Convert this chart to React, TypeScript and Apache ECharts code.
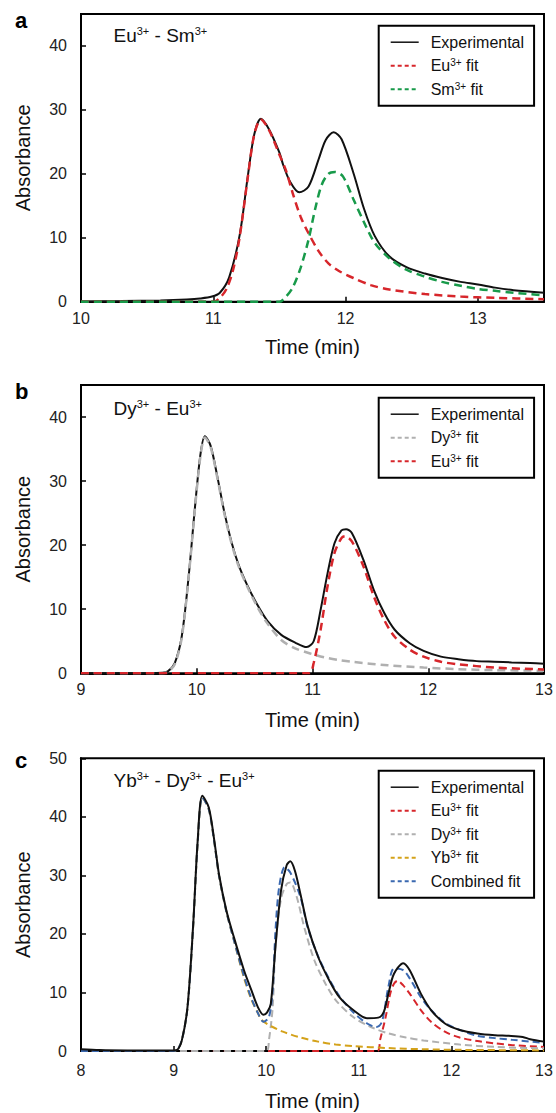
import React, { useEffect, useRef } from "react";
import * as echarts from "echarts";

const FONT = 'Arial, "Liberation Sans", Helvetica, sans-serif';

// Panel a: Eu3+ - Sm3+
const aExperimental: [number, number][] = [
  [10.0, 0.05], [10.3, 0.1], [10.6, 0.2], [10.8, 0.35], [10.9, 0.5], [10.99, 0.8], [11.05, 1.4],
  [11.12, 3.8], [11.2, 10.5], [11.26, 19.5], [11.31, 26.2], [11.36, 28.6], [11.42, 27.0], [11.5, 23.3],
  [11.53, 21.3], [11.58, 18.8], [11.65, 17.1], [11.72, 18.0], [11.8, 22.5], [11.85, 25.3], [11.91, 26.5],
  [11.97, 25.4], [12.06, 20.1], [12.14, 14.5], [12.22, 10.3], [12.33, 7.1], [12.46, 5.4], [12.6, 4.4],
  [12.73, 3.7], [12.87, 3.1], [13.0, 2.7], [13.13, 2.2], [13.27, 1.8], [13.5, 1.4],
];
const aEuFit: [number, number][] = [
  [10.0, 0], [11.0, 0], [11.05, 0.6], [11.1, 2.0], [11.15, 5.0], [11.2, 10.2], [11.26, 19.3], [11.31, 26.2],
  [11.36, 28.5], [11.42, 26.9], [11.5, 23.0], [11.55, 20.5], [11.6, 17.0], [11.66, 13.3], [11.72, 10.7],
  [11.8, 7.8], [11.87, 6.0], [11.95, 4.8], [12.06, 3.7], [12.19, 2.6], [12.33, 1.9], [12.6, 1.2],
  [12.87, 0.8], [13.13, 0.6], [13.5, 0.4],
];
const aSmFit: [number, number][] = [
  [10.0, 0], [11.5, 0], [11.55, 0.8], [11.6, 2.2], [11.66, 5.3], [11.72, 9.7], [11.77, 14.5], [11.82, 18.3],
  [11.87, 20.0], [11.92, 20.3], [11.98, 19.6], [12.06, 16.0], [12.14, 12.4], [12.22, 9.2], [12.33, 6.8],
  [12.46, 5.0], [12.6, 3.9], [12.73, 3.1], [12.87, 2.5], [13.0, 2.0], [13.13, 1.7], [13.27, 1.4], [13.5, 1.0],
];

// Panel b: Dy3+ - Eu3+
const bExperimental: [number, number][] = [
  [9.0, 0], [9.5, 0], [9.7, 0.1], [9.75, 0.3], [9.81, 1.6], [9.87, 5.7], [9.93, 15.1], [9.98, 25.0],
  [10.03, 33.9], [10.07, 37.0], [10.12, 35.5], [10.18, 30.5], [10.24, 25.0], [10.3, 20.5], [10.36, 17.0],
  [10.43, 14.0], [10.52, 10.8], [10.61, 8.2], [10.73, 6.0], [10.85, 4.8], [10.95, 4.1], [11.01, 5.0],
  [11.07, 9.9], [11.13, 15.6], [11.19, 20.3], [11.25, 22.3], [11.29, 22.5], [11.34, 21.9], [11.44, 17.7],
  [11.53, 13.0], [11.62, 9.4], [11.71, 6.8], [11.84, 4.7], [11.96, 3.5], [12.11, 2.6], [12.26, 2.2],
  [12.42, 1.9], [12.57, 1.8], [12.72, 1.7], [12.88, 1.6], [13.0, 1.5],
];
const bDyFit: [number, number][] = [
  [9.0, 0], [9.7, 0], [9.75, 0.2], [9.81, 1.4], [9.87, 5.5], [9.93, 15.0], [9.98, 24.8], [10.03, 33.6],
  [10.07, 36.8], [10.12, 35.3], [10.18, 30.3], [10.24, 24.8], [10.3, 20.3], [10.36, 16.8], [10.43, 13.8],
  [10.52, 10.5], [10.61, 7.8], [10.73, 5.2], [10.85, 3.9], [10.98, 3.1], [11.1, 2.5], [11.22, 2.1],
  [11.34, 1.8], [11.65, 1.25], [11.96, 0.9], [12.26, 0.65], [12.57, 0.5], [13.0, 0.4],
];
const bEuFit: [number, number][] = [
  [9.0, 0], [10.97, 0], [11.01, 1.6], [11.07, 6.8], [11.13, 13.6], [11.19, 18.8], [11.25, 21.1],
  [11.28, 21.4], [11.34, 20.6], [11.44, 16.7], [11.53, 12.0], [11.62, 8.3], [11.71, 5.7], [11.84, 3.7],
  [11.96, 2.6], [12.11, 1.8], [12.26, 1.4], [12.57, 0.9], [13.0, 0.6],
];

// Panel c: Yb3+ - Dy3+ - Eu3+
const cExperimental: [number, number][] = [
  [8.0, 0.3], [8.2, 0.15], [8.5, 0.1], [9.0, 0.1], [9.04, 0.2], [9.09, 1.9], [9.15, 7.5], [9.21, 21.2],
  [9.26, 35.9], [9.31, 43.6], [9.38, 41.6], [9.44, 35.9], [9.49, 30.2], [9.57, 24.0], [9.65, 19.5],
  [9.76, 13.8], [9.84, 10.4], [9.91, 7.5], [9.97, 6.2], [10.01, 6.6], [10.05, 8.1], [10.1, 17.8],
  [10.16, 27.4], [10.22, 31.7], [10.26, 32.4], [10.31, 30.8], [10.37, 26.8], [10.45, 21.2], [10.56, 16.1],
  [10.68, 12.1], [10.79, 9.2], [10.94, 7.0], [11.09, 5.6], [11.21, 5.7], [11.27, 6.7], [11.32, 9.8],
  [11.38, 13.2], [11.48, 15.0], [11.55, 13.8], [11.67, 9.8], [11.78, 7.0], [11.93, 4.7], [12.09, 3.6],
  [12.28, 3.0], [12.47, 2.7], [12.62, 2.6], [12.77, 2.4], [12.85, 2.0], [13.0, 1.6],
];
const cEuFit: [number, number][] = [
  [8.0, 0], [11.2, 0], [11.23, 1.9], [11.29, 5.8], [11.34, 9.8], [11.38, 11.5], [11.42, 12.0], [11.48, 11.2],
  [11.55, 9.8], [11.67, 7.0], [11.78, 5.0], [11.93, 3.3], [12.09, 2.3], [12.28, 1.7], [12.47, 1.3],
  [12.66, 1.0], [13.0, 0.7],
];
const cDyFit: [number, number][] = [
  [8.0, 0], [10.0, 0], [10.03, 1.9], [10.07, 7.5], [10.1, 18.0], [10.16, 26.0], [10.22, 28.5], [10.26, 28.8],
  [10.33, 26.3], [10.41, 21.2], [10.52, 15.5], [10.64, 11.5], [10.75, 8.7], [10.94, 5.8], [11.13, 4.1],
  [11.32, 3.0], [11.51, 2.3], [11.7, 1.8], [12.09, 1.1], [12.47, 0.7], [13.0, 0.45],
];
const cYbFit: [number, number][] = [
  [8.0, 0], [9.0, 0], [9.04, 0.2], [9.09, 1.9], [9.15, 7.4], [9.21, 21.0], [9.26, 35.6], [9.31, 43.3],
  [9.38, 41.3], [9.44, 35.6], [9.49, 30.0], [9.57, 23.8], [9.65, 19.0], [9.76, 12.5], [9.84, 8.8],
  [9.91, 6.5], [9.95, 5.3], [10.07, 4.1], [10.18, 3.3], [10.37, 2.3], [10.56, 1.6], [10.75, 1.1],
  [10.94, 0.85], [11.32, 0.5], [11.7, 0.3], [12.09, 0.2], [13.0, 0.1],
];
const cCombinedFit: [number, number][] = [
  [8.0, 0], [9.0, 0], [9.04, 0.2], [9.09, 1.9], [9.15, 7.4], [9.21, 21.0], [9.26, 35.6], [9.31, 43.3],
  [9.38, 41.3], [9.44, 35.6], [9.49, 30.0], [9.57, 23.8], [9.65, 19.0], [9.76, 12.8], [9.84, 9.0],
  [9.91, 6.5], [9.97, 5.0], [10.03, 5.8], [10.07, 10.5], [10.1, 20.5], [10.14, 28.0], [10.2, 31.4],
  [10.26, 30.5], [10.37, 26.3], [10.45, 21.0], [10.56, 16.2], [10.68, 12.3], [10.79, 9.4], [10.94, 6.6],
  [11.09, 4.7], [11.19, 4.1], [11.25, 5.0], [11.32, 11.0], [11.38, 14.1], [11.48, 13.8], [11.55, 12.4],
  [11.67, 9.2], [11.78, 7.0], [11.93, 4.8], [12.09, 3.6], [12.28, 2.6], [12.47, 2.2], [12.66, 1.9],
  [13.0, 1.4],
];

const panelLetters = ["a", "b", "c"];
const sampleLabels = ["Eu{s|3+} - Sm{s|3+}", "Dy{s|3+} - Eu{s|3+}", "Yb{s|3+} - Dy{s|3+} - Eu{s|3+}"];
const xRanges: [number, number][] = [[10, 13.5], [9, 13], [8, 13]];
const yMaxes = [45, 45, 50];
const xTitle = "Time (min)";
const yTitle = "Absorbance";

const legendText: Record<string, string> = {
  a_exp: "Experimental", a_eu: "Eu{s|3+} fit", a_sm: "Sm{s|3+} fit",
  b_exp: "Experimental", b_dy: "Dy{s|3+} fit", b_eu: "Eu{s|3+} fit",
  c_exp: "Experimental", c_eu: "Eu{s|3+} fit", c_dy: "Dy{s|3+} fit", c_yb: "Yb{s|3+} fit", c_comb: "Combined fit",
};

const BLACK = "#111111";
const RED = "#d7262b";
const GREEN = "#189a4a";
const GRAY = "#b0b0b0";
const GOLD = "#d4a21a";
const BLUE = "#3a68b0";

export default function App() {
  const ref = useRef<HTMLDivElement>(null);
  useEffect(() => {
    document.body.style.margin = "0";
    if (!ref.current) return;
    const chart = echarts.init(ref.current, undefined, { renderer: "svg" });

    const grids = [
      { left: 81, right: 12, top: 14, height: 287.7 },
      { left: 81, right: 12, top: 385, height: 288.3 },
      { left: 81, right: 12, top: 758.3, height: 292.7 },
    ].map((g) => ({ ...g, show: true, borderColor: "#000", borderWidth: 2, backgroundColor: "transparent" }));

    const nameGaps = [35, 36.5, 40];
    const labelMargins = [9, 8, 11];

    const xAxis = xRanges.map((r, i) => ({
      type: "value",
      gridIndex: i,
      min: r[0],
      max: r[1],
      interval: 1,
      name: xTitle,
      nameLocation: "middle",
      nameGap: nameGaps[i],
      nameTextStyle: { fontSize: 20, color: BLACK, fontFamily: FONT },
      axisLine: { show: true, onZero: false, lineStyle: { color: "#000", width: 2 } },
      axisTick: { show: true, inside: true, length: 5, lineStyle: { color: "#000", width: 1.5 } },
      axisLabel: { fontSize: 16, color: "#222", fontFamily: FONT, margin: labelMargins[i], showMaxLabel: i === 0 ? false : true },
      splitLine: { show: false },
    }));

    const yAxis = yMaxes.map((m, i) => ({
      type: "value",
      gridIndex: i,
      min: 0,
      max: m,
      interval: 10,
      name: yTitle,
      nameLocation: "middle",
      nameGap: 48,
      nameRotate: 90,
      nameTextStyle: { fontSize: 20, color: BLACK, fontFamily: FONT },
      axisLine: { show: true, onZero: false, lineStyle: { color: "#000", width: 2 } },
      axisTick: { show: true, inside: true, length: 5, lineStyle: { color: "#000", width: 1.5 } },
      axisLabel: { fontSize: 16, color: "#222", fontFamily: FONT, margin: 14, showMaxLabel: m === 50 },
      splitLine: { show: false },
    }));

    const mk = (name: string, data: [number, number][], idx: number, color: string, dashed: boolean, width: number, dash: number[] = [8, 5], z = 2) => ({
      name,
      type: "line",
      xAxisIndex: idx,
      yAxisIndex: idx,
      data,
      z,
      symbol: "none",
      showSymbol: false,
      smooth: 0.3,
      lineStyle: { color, width, type: dashed ? dash : "solid" },
      itemStyle: { color },
      emphasis: { disabled: true },
    });

    const series = [
      mk("a_exp", aExperimental, 0, BLACK, false, 2),
      mk("a_eu", aEuFit, 0, RED, true, 2.5),
      mk("a_sm", aSmFit, 0, GREEN, true, 2.5),
      mk("b_exp", bExperimental, 1, BLACK, false, 2),
      mk("b_dy", bDyFit, 1, GRAY, true, 2.5),
      mk("b_eu", bEuFit, 1, RED, true, 2.5),
      mk("c_exp", cExperimental, 2, BLACK, false, 2, [8, 5], 3),
      mk("c_eu", cEuFit, 2, RED, true, 2, [7, 4]),
      mk("c_dy", cDyFit, 2, GRAY, true, 2, [7, 4]),
      mk("c_yb", cYbFit, 2, GOLD, true, 2, [7, 4]),
      mk("c_comb", cCombinedFit, 2, BLUE, true, 2, [7, 4]),
    ];

    const legendItem = (name: string) => ({
      name,
      itemStyle: { opacity: 0 },
      lineStyle: name.endsWith("_exp") ? { type: "solid", width: 1.5, opacity: 1 } : { type: [4, 3], width: 2, opacity: 1 },
    });

    const mkLegend = (names: string[], top: number) => ({
      data: names.map(legendItem),
      orient: "vertical",
      left: 378.7,
      top,
      itemWidth: 28,
      itemHeight: 16,
      itemGap: 7.5,
      padding: [8.5, 10, 8.5, 11],
      borderColor: "#000",
      borderWidth: 2,
      borderRadius: 0,
      backgroundColor: "#fff",
      selectedMode: false,
      itemStyle: { opacity: 0 },
      formatter: (n: string) => legendText[n] ?? n,
      textStyle: {
        fontSize: 16,
        lineHeight: 16,
        color: BLACK,
        fontFamily: FONT,
        padding: [0, 0, 0, 7],
        rich: { s: { fontSize: 10, lineHeight: 10, verticalAlign: "top", color: BLACK, fontFamily: FONT } },
      },
    });

    const legend = [
      mkLegend(["a_exp", "a_eu", "a_sm"], 25.7),
      mkLegend(["b_exp", "b_dy", "b_eu"], 397.7),
      mkLegend(["c_exp", "c_eu", "c_dy", "c_yb", "c_comb"], 770.7),
    ];

    const letterY = [20.7, 391.7, 760];
    const labelY = [35, 408.3, 780];
    const graphic: any[] = [];
    panelLetters.forEach((l, i) => {
      graphic.push({
        type: "text",
        x: 15,
        y: letterY[i],
        style: { text: l, fontSize: 22, fontWeight: "bold", fontFamily: FONT, fill: "#000", verticalAlign: "middle" },
      });
    });
    sampleLabels.forEach((t, i) => {
      graphic.push({
        type: "text",
        x: 113.5,
        y: labelY[i],
        style: {
          text: t,
          fontSize: 19,
          fontFamily: FONT,
          fill: BLACK,
          verticalAlign: "middle",
          lineHeight: 19,
          rich: { s: { fontSize: 11, lineHeight: 11, verticalAlign: "top", fontFamily: FONT, fill: BLACK } },
        },
      });
    });

    chart.setOption({
      animation: false,
      backgroundColor: "#fff",
      grid: grids,
      xAxis,
      yAxis,
      legend,
      series,
      graphic,
    } as any);

    return () => chart.dispose();
  }, []);

  return <div ref={ref} style={{ position: "absolute", left: 0, top: 0, width: 556, height: 1113 }} />;
}
